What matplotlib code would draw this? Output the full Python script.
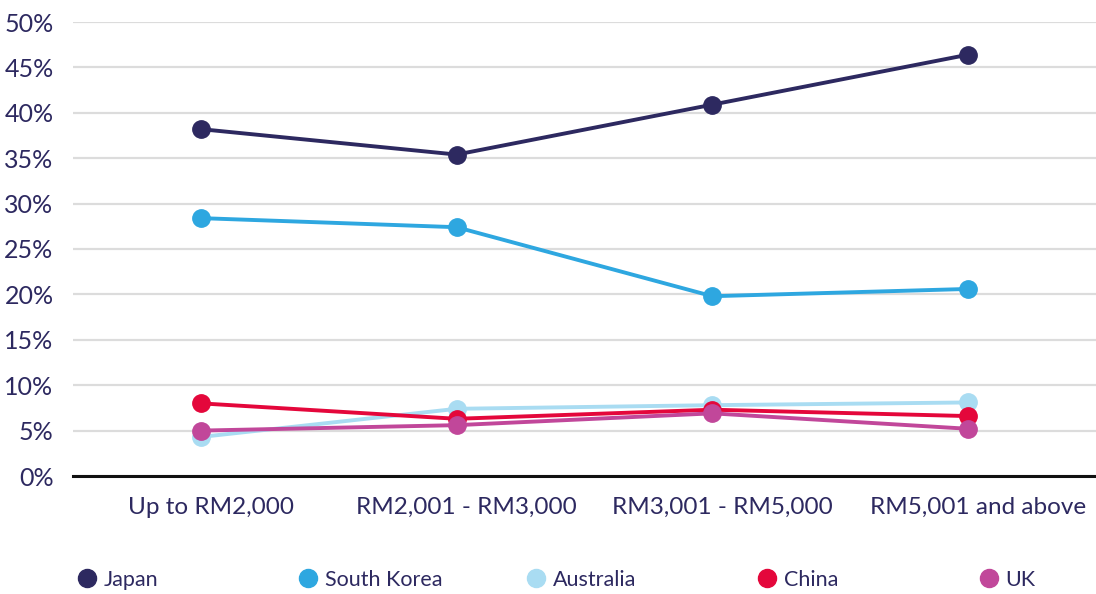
import matplotlib
matplotlib.use("Agg")
from matplotlib import pyplot as plt
from matplotlib.lines import Line2D
from matplotlib.ticker import MultipleLocator, FuncFormatter
import matplotlib.transforms as mtransforms

plt.rcParams['font.family'] = ['Lato', 'DejaVu Sans']

# income bands
categories = ['Up to RM2,000', 'RM2,001 - RM3,000', 'RM3,001 - RM5,000', 'RM5,001 and above']

# share of respondents (%)
japan = [38.2, 35.4, 40.9, 46.4]
south_korea = [28.4, 27.4, 19.8, 20.6]
australia = [4.3, 7.4, 7.8, 8.1]
china = [8.0, 6.3, 7.3, 6.6]
uk = [5.0, 5.6, 6.9, 5.2]

series = [
    ('Japan', japan, '#2d2960'),
    ('South Korea', south_korea, '#2ea7e0'),
    ('Australia', australia, '#a9dcf2'),
    ('China', china, '#e4073b'),
    ('UK', uk, '#c1479a'),
]

text_col = '#2d2960'

fig = plt.figure(figsize=(10.96, 5.94), dpi=100)
ax = fig.add_axes([73 / 1096, 1 - 476 / 594, 1 - 73 / 1096, (476 - 22) / 594])

x = list(range(len(categories)))
for name, vals, col in series:
    ax.plot(x, vals, color=col, lw=2.8, marker='o', markersize=12.5,
            label=name, clip_on=False, zorder=3)

ax.set_xlim(-0.5, 3.5)
ax.set_ylim(0, 50)
ax.yaxis.set_major_locator(MultipleLocator(5))
ax.yaxis.set_major_formatter(FuncFormatter(lambda v, p: f'{v:.0f}%'))
ax.grid(axis='y', color='#dcdcdc', lw=1.6, zorder=0)
ax.set_axisbelow(True)

for s in ['top', 'right', 'left']:
    ax.spines[s].set_visible(False)
ax.spines['bottom'].set_color('#111111')
ax.spines['bottom'].set_linewidth(2.2)
ax.spines['bottom'].set_zorder(2)

ax.set_xticks(x)
ax.set_xticklabels(categories)
ax.tick_params(axis='x', length=0, labelsize=17.5, labelcolor=text_col, pad=15)
ax.tick_params(axis='y', length=0, labelsize=18, labelcolor=text_col, pad=14)
offset = mtransforms.ScaledTranslation(10 / 100, 0, fig.dpi_scale_trans)
for lbl in ax.get_xticklabels():
    lbl.set_transform(lbl.get_transform() + offset)

# legend entries spaced evenly along the bottom
leg_x = [88, 309, 537, 768, 990]
for (name, vals, col), lx in zip(series, leg_x):
    h = Line2D([], [], color=col, marker='o', linestyle='none', markersize=13)
    fig.legend(handles=[h], labels=[name], loc='center left',
               bbox_to_anchor=((lx - 20) / 1096, 1 - 580 / 594),
               frameon=False, fontsize=15.5, labelcolor=text_col,
               handletextpad=0.25, borderaxespad=0, handlelength=1.0)

fig.savefig('out.png', dpi=100)
